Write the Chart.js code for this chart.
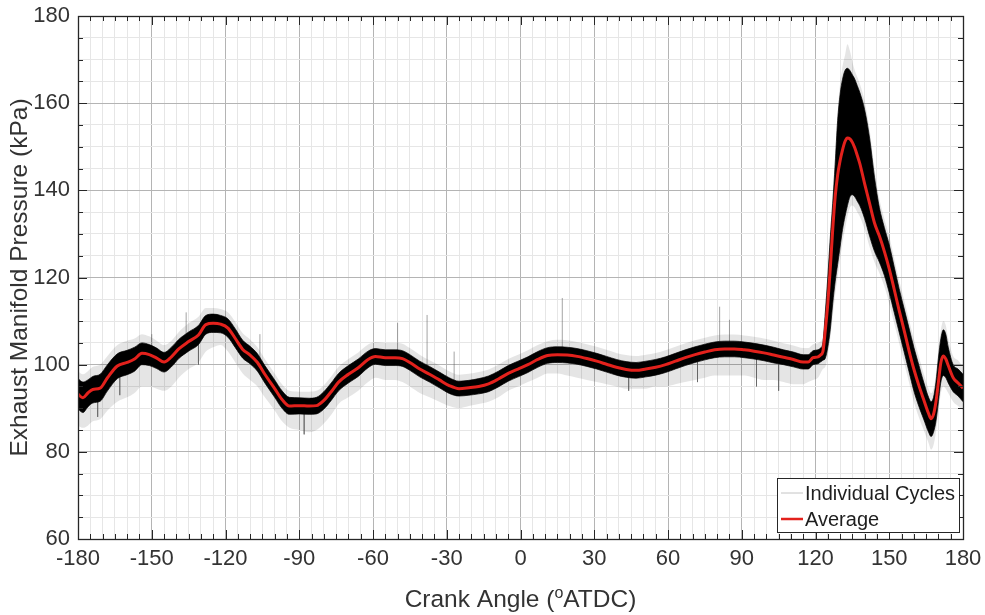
<!DOCTYPE html>
<html>
<head>
<meta charset="utf-8">
<title>Exhaust Manifold Pressure</title>
<script src="https://cdn.jsdelivr.net/npm/chart.js@4.4.1/dist/chart.umd.min.js"></script>
<style>
  html, body { margin: 0; padding: 0; background: #fff; }
  #wrap { width: 985px; height: 615px; }
</style>
</head>
<body>
<div id="wrap"><canvas id="chart" width="985" height="615"></canvas></div>
<script>
// crank angle (deg ATDC) for every sampled column
const angles = [
  -180,-178,-176,-174,-171,-168,-164,-160,-157,-154,
  -151,-148,-145,-142,-139,-135,-131,-128,-125,-122,
  -119,-116,-113,-110,-107,-104,-100,-97,-94,-90,
  -86,-83,-80,-77,-74,-70,-66,-62,-59,-55,
  -51,-48,-45,-41,-37,-33,-29,-25,-21,-17,
  -13,-9,-5,-1,3,7,11,15,19,23,
  27,31,35,39,43,47,51,55,59,63,
  67,71,75,79,83,87,91,95,99,103,
  107,111,115,117,119,121,122,123,124,125,
  126,127,128,129,130,131,132,133,134,135,
  136,137,138,140,142,144,146,148,150,152,
  154,156,158,160,162,164,166,167,168,169,
  170,171,172,173,174,176,178,180
];

// ensemble average (kPa)
const average = [
  93.2,92.4,93.5,94.3,94.6,97,99.7,100.5,101.3,102.6,
  102.3,101.5,100.6,101.8,103.6,105.3,106.8,109.2,109.5,109.3,
  108.4,106,103.5,102.2,100.5,97.8,94.5,92,90.5,90.6,
  90.5,90.6,91.8,93.8,96,97.8,99.3,101.2,101.9,101.6,
  101.6,101.4,100.5,99,97.8,96.5,95.2,94.5,94.7,95,
  95.6,96.7,98,99,100,101.2,102.1,102.3,102.2,101.9,
  101.4,100.8,100.1,99.4,98.9,98.7,99,99.4,100,100.8,
  101.6,102.3,102.9,103.4,103.6,103.6,103.4,103.1,102.7,102.2,
  101.7,101.2,100.6,100.6,101.6,101.8,102.2,103,108,114,
  122,131,138.5,143.5,146.8,149.3,151.2,152,151.8,151,
  149.7,148,146.2,141.5,137,132.5,129.5,126,122,117.3,
  112.5,108,103.3,99,95.3,92,88.8,87.6,88.6,91.5,
  96,100.5,102,101.3,99.8,97,95.8,94.6
];

// dense core of the individual cycles: upper and lower edge (kPa)
const cycleHigh = [
  96.8,96,96.5,97.3,97.8,100,102.5,103.3,104,105,
  104.6,103.8,102.8,104,105.8,107.5,109,111.3,111.6,111.3,
  110.5,108.2,105.6,104.2,102.5,99.8,96.5,94,92.5,92.4,
  92.3,92.5,93.8,95.8,98,99.8,101.3,103.1,103.7,103.4,
  103.4,103.2,102.3,100.8,99.6,98.3,97,96.2,96.4,96.8,
  97.4,98.5,99.8,100.8,101.8,103,103.9,104.1,104,103.7,
  103.2,102.6,101.9,101.2,100.7,100.5,100.8,101.2,101.8,102.6,
  103.4,104.1,104.7,105.2,105.4,105.4,105.2,104.9,104.5,104,
  103.4,102.9,102.3,102.3,103.2,103.4,103.8,105,112,120,
  129,137,146,156,162,165.5,167.5,168,167.5,166.5,
  165.5,164,162.5,158.5,152,143,136,131.5,127.5,122.5,
  117.5,113,108.5,104,100,96,92.5,91.5,92.5,96,
  101.5,106,108,107,104,100,99,97.8
];
const cycleLow = [
  89.8,89,90.3,91.2,91.6,94,96.8,97.7,98.5,100,
  99.8,99.1,98.3,99.5,101.4,103.1,104.6,107,107.4,107.3,
  106.3,103.9,101.5,100.2,98.5,95.8,92.5,90,88.6,88.7,
  88.6,88.7,89.8,91.8,94,95.8,97.3,99.3,100.1,99.8,
  99.8,99.6,98.7,97.2,96,94.7,93.4,92.8,93,93.3,
  93.8,94.9,96.2,97.2,98.2,99.4,100.3,100.5,100.4,100.1,
  99.6,99,98.3,97.6,97.1,96.9,97.2,97.6,98.2,99,
  99.8,100.5,101.1,101.6,101.8,101.8,101.6,101.3,100.9,100.4,
  100,99.5,99,99,100,100.2,100.6,101,101.5,104,
  108,114,119,123,127,131,134,136.5,138.5,139,
  138.5,137.5,136.5,133.5,129.5,126,123.5,120.5,116.5,112,
  107.5,103,98.5,94,90.5,87.5,84.5,83.5,84.5,87,
  91.5,96,97.5,97,95.8,93.8,92.8,91.5
];

// faint outer scatter of the individual cycles (kPa)
const scatterHigh = [
  98.5,97.8,98.5,99.5,100,102,104.5,105.5,106,107,
  106.5,105.5,104.5,105.5,107.5,109.5,111,113,113,112.8,
  112,109.8,107.2,105.8,104,101.3,98,95.5,94,93.8,
  93.8,94,95.3,97.3,99.5,101.3,102.8,104.6,105.2,105,
  105,104.8,103.8,102.3,101,99.8,98.5,97.7,97.9,98.3,
  98.9,100,101.3,102.3,103.3,104.5,105.4,105.7,105.6,105.2,
  104.7,104.1,103.4,102.7,102.2,102,102.3,102.7,103.3,104.1,
  104.9,105.6,106.2,106.7,106.9,106.9,106.7,106.4,106,105.5,
  104.9,104.4,103.8,103.8,104.7,104.9,105.3,106.5,114,122,
  131,139.5,148.5,158,164.5,168.5,171,173.5,172,169.5,
  167.5,166,164.5,160.5,154,145,138,133.5,129.5,124.5,
  119.5,115,110.5,106,102,98,94.5,93.5,94.5,98,
  103.5,108,110,109,106,102,101,99.5
];
const scatterLow = [
  86,85.5,86,87,87.5,89.5,91.5,92.5,93.5,95,
  95,94.5,94,95,97,99,100.5,103,104,104.5,
  103,100.5,98,96.5,95,92.5,89.5,87,85.5,85,
  84.5,85,86.5,88.5,91,92.5,94,96,97,96.5,
  96.5,96,95,93.5,92.5,91.5,90.5,90,90.5,91,
  91.5,92.5,94,95,96,97,98,98,97.5,97,
  96.5,96,95.5,95,94.5,94.5,94.5,95,95,95.5,
  96,96.5,97,97.5,97.5,97.5,97.5,97,96.5,96.5,
  96,95.5,95.5,96,96.5,97,98,99,99.5,102,
  106,111,116,120,124,128,131,134,136,136.5,
  136,135,134,131,127,123.5,121,118,114,109.5,
  105,100.5,96,91.5,88,85,82,80.5,81.5,84.5,
  89,93.5,95,94.5,93.5,91.5,90.5,89.5
];

// single stray cycles that stick out of the band
const spikeAngles = [-172, -163, -150, -136, -131, -106, -88, -50, -38, -27, 17, 44, 72, 81, 85, 96, 105];
const spikeBase   = [94, 99, 102, 104, 107, 100, 90.5, 101.5, 99, 95, 102, 99, 102, 103.5, 103.5, 103, 102];
const spikeTip    = [88, 93, 107, 112, 100, 107, 84, 109.6, 111.4, 103, 115.3, 94, 96, 113.3, 110.3, 95, 94];

const xTicks = [-180, -150, -120, -90, -60, -30, 0, 30, 60, 90, 120, 150, 180];
const yTicks = [60, 80, 100, 120, 140, 160, 180];

const FONT = '"Liberation Sans", Arial, Helvetica, sans-serif';
const MAJOR = '#b4b4b4';
const MINOR = '#e6e6e6';

const pts = ys => angles.map((a, i) => ({ x: a, y: ys[i] }));

const spikeData = [];
spikeAngles.forEach((a, i) => {
  spikeData.push({ x: a, y: spikeBase[i] }, { x: a, y: spikeTip[i] }, { x: a, y: null });
});

const framePlugin = {
  id: 'frame',
  afterDatasetsDraw(chart) {
    const { ctx, chartArea: a, scales: { x, y } } = chart;
    ctx.save();
    ctx.strokeStyle = '#262626';
    ctx.lineWidth = 1;
    ctx.beginPath();
    x.ticks.forEach(t => {
      const px = Math.round(x.getPixelForValue(t.value)) + 0.5;
      const len = xTicks.includes(t.value) ? 9 : 5;
      ctx.moveTo(px, a.bottom); ctx.lineTo(px, a.bottom - len);
      ctx.moveTo(px, a.top); ctx.lineTo(px, a.top + len);
    });
    y.ticks.forEach(t => {
      const py = Math.round(y.getPixelForValue(t.value)) + 0.5;
      const len = yTicks.includes(t.value) ? 9 : 5;
      ctx.moveTo(a.left, py); ctx.lineTo(a.left + len, py);
      ctx.moveTo(a.right, py); ctx.lineTo(a.right - len, py);
    });
    ctx.stroke();
    ctx.lineWidth = 1.3;
    ctx.strokeRect(Math.round(a.left) + 0.5, Math.round(a.top) + 0.5,
      Math.round(a.right - a.left), Math.round(a.bottom - a.top));

    // legend box, lower right inside the axes
    const bx = a.right - 186, by = a.bottom - 61, bw = 182, bh = 54;
    ctx.fillStyle = '#fff';
    ctx.fillRect(bx, by, bw, bh);
    ctx.lineWidth = 1;
    ctx.strokeStyle = '#262626';
    ctx.strokeRect(bx + 0.5, by + 0.5, bw, bh);
    ctx.lineWidth = 1;
    ctx.strokeStyle = '#c4c4c4';
    ctx.beginPath(); ctx.moveTo(bx + 4, by + 15); ctx.lineTo(bx + 26, by + 15); ctx.stroke();
    ctx.lineWidth = 2.5;
    ctx.strokeStyle = '#e3211c';
    ctx.beginPath(); ctx.moveTo(bx + 4, by + 41); ctx.lineTo(bx + 26, by + 41); ctx.stroke();
    ctx.fillStyle = '#1e1e1e';
    ctx.font = '20px ' + FONT;
    ctx.textAlign = 'left';
    ctx.textBaseline = 'middle';
    ctx.fillText('Individual Cycles', bx + 28, by + 16);
    ctx.fillText('Average', bx + 28, by + 42);
    ctx.restore();
  },
  afterDraw(chart) {
    const { ctx, chartArea: a } = chart;
    ctx.save();
    ctx.fillStyle = '#333';
    ctx.textBaseline = 'alphabetic';
    ctx.textAlign = 'left';

    // x title with superscript o
    const big = '24.5px ' + FONT, small = '16px ' + FONT;
    const p1 = 'Crank Angle (', p2 = 'o', p3 = 'ATDC)';
    ctx.font = big; const w1 = ctx.measureText(p1).width, w3 = ctx.measureText(p3).width;
    ctx.font = small; const w2 = ctx.measureText(p2).width;
    let tx = (a.left + a.right) / 2 - (w1 + w2 + w3) / 2;
    const base = 607;
    ctx.font = big; ctx.fillText(p1, tx, base); tx += w1;
    ctx.font = small; ctx.fillText(p2, tx, base - 9); tx += w2;
    ctx.font = big; ctx.fillText(p3, tx, base);

    // y title
    ctx.translate(27, (a.top + a.bottom) / 2);
    ctx.rotate(-Math.PI / 2);
    ctx.textAlign = 'center';
    ctx.font = big;
    ctx.fillText('Exhaust Manifold Pressure (kPa)', 0, 0);
    ctx.restore();
  }
};

new Chart(document.getElementById('chart'), {
  type: 'line',
  data: {
    datasets: [
      { label: 'Average', data: pts(average), borderColor: '#e3211c', borderWidth: 3,
        cubicInterpolationMode: 'monotone', fill: false, order: 0 },
      { label: 'cycle high', data: pts(cycleHigh), borderColor: 'rgba(0,0,0,0.7)', borderWidth: 1,
        cubicInterpolationMode: 'monotone', fill: false, order: 1 },
      { label: 'cycle low', data: pts(cycleLow), borderColor: 'rgba(0,0,0,0.7)', borderWidth: 1,
        backgroundColor: '#000', cubicInterpolationMode: 'monotone', fill: 1, order: 1 },
      { label: 'Individual Cycles', data: spikeData, borderColor: 'rgba(90,90,90,0.55)', borderWidth: 1,
        spanGaps: false, fill: false, order: 2 },
      { label: 'scatter high', data: pts(scatterHigh), borderWidth: 0, borderColor: 'rgba(0,0,0,0)',
        cubicInterpolationMode: 'monotone', fill: false, order: 3 },
      { label: 'scatter low', data: pts(scatterLow), borderWidth: 0, borderColor: 'rgba(0,0,0,0)',
        backgroundColor: 'rgba(0,0,0,0.1)', cubicInterpolationMode: 'monotone', fill: 4, order: 3 }
    ]
  },
  options: {
    responsive: false,
    animation: false,
    devicePixelRatio: 1,
    layout: { padding: { top: 16, right: 22, left: 0, bottom: 0 } },
    elements: { point: { radius: 0 } },
    plugins: { legend: { display: false }, tooltip: { enabled: false } },
    scales: {
      x: {
        type: 'linear', min: -180, max: 180,
        ticks: {
          stepSize: 5, maxTicksLimit: 100, autoSkip: false, maxRotation: 0, padding: 7,
          color: '#333', font: { family: FONT, size: 22 },
          callback: v => xTicks.includes(v) ? String(v) : ''
        },
        grid: { color: c => xTicks.includes(c.tick.value) ? MAJOR : MINOR, lineWidth: 1, drawTicks: false },
        border: { display: false },
        afterFit: s => { s.height = 76; s.paddingLeft = 0; s.paddingRight = 0; }
      },
      y: {
        type: 'linear', min: 60, max: 180,
        ticks: {
          stepSize: 5, maxTicksLimit: 100, autoSkip: false, padding: 8,
          color: '#333', font: { family: FONT, size: 22 },
          callback: v => yTicks.includes(v) ? String(v) : ''
        },
        grid: { color: c => yTicks.includes(c.tick.value) ? MAJOR : MINOR, lineWidth: 1, drawTicks: false },
        border: { display: false },
        afterFit: s => { s.width = 78; s.paddingTop = 0; s.paddingBottom = 0; }
      }
    }
  },
  plugins: [framePlugin]
});
</script>
</body>
</html>
